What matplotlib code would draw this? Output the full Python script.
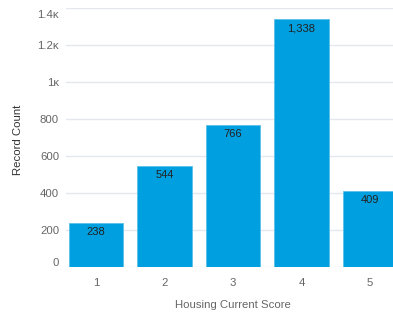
import matplotlib
matplotlib.use('Agg')
import matplotlib.pyplot as plt
import matplotlib.transforms as mtransforms
from matplotlib.ticker import FuncFormatter

# chart data
scores = ['1', '2', '3', '4', '5']
counts = [238, 544, 766, 1338, 409]
y_ticks = [0, 200, 400, 600, 800, 1000, 1200, 1400]

plt.rcParams['font.family'] = ['Liberation Sans', 'DejaVu Sans']

W, H = 393, 314
fig = plt.figure(figsize=(W / 100, H / 100), dpi=100)
# plot area in pixels: left 66, right 404 (clipped by figure), top 8, bottom 267
ax = fig.add_axes([66 / W, (H - 267) / H, 338 / W, 259 / H])

x = range(len(scores))
ax.bar(x, counts, width=0.8, color='#009FDF', edgecolor='#5cbfe9',
       linewidth=0.6, zorder=2)

for xi, v in zip(x, counts):
    ax.text(xi, v - 9 * 1400 / 259, f'{v:,}', ha='center', va='center',
            fontsize=8, color='#222222', zorder=3)

ax.set_xlim(-0.438, 4.496)
ax.set_ylim(0, 1400)
ax.set_xticks(list(x))
ax.set_xticklabels(scores)
ax.set_yticks(y_ticks)


def fmt(v, pos):
    if v >= 1000:
        s = f'{v / 1000:.1f}'.rstrip('0').rstrip('.')
        return s + '\u1d0b'
    return f'{int(v)}'


ax.yaxis.set_major_formatter(FuncFormatter(fmt))
ax.tick_params(axis='both', length=0, labelsize=8.2, labelcolor='#666666')
ax.tick_params(axis='x', pad=8)
ax.tick_params(axis='y', pad=5)
ax.grid(axis='y', color='#e4e8ee', linewidth=1, zorder=0)
for s in ax.spines.values():
    s.set_visible(False)

# outer tick labels are nudged inward like the reference
ylabels = ax.get_yticklabels()
ylabels[0].set_transform(ylabels[0].get_transform() +
                         mtransforms.ScaledTranslation(0, 5 / 100, fig.dpi_scale_trans))
ylabels[-1].set_transform(ylabels[-1].get_transform() +
                          mtransforms.ScaledTranslation(0, -6 / 100, fig.dpi_scale_trans))

fig.text(233 / W, 1 - 305 / H, 'Housing Current Score', ha='center', va='center',
         fontsize=8.2, color='#666666')
fig.text(18 / W, 1 - 140 / H, 'Record Count', ha='center', va='center',
         rotation=90, fontsize=8.2, color='#333333')

fig.savefig('out.png', dpi=100)
